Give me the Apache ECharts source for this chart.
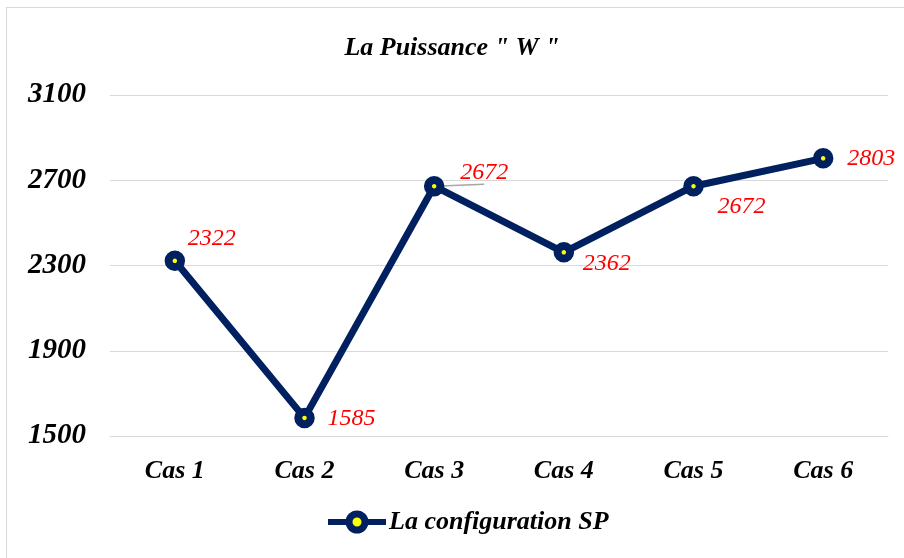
<!DOCTYPE html>
<html>
<head>
<meta charset="utf-8">
<script src="https://cdn.jsdelivr.net/npm/echarts@6/dist/echarts.min.js"></script>
<style>
  html, body { margin: 0; padding: 0; background: #fff; }
  #frame { position: absolute; left: 6px; top: 7px; width: 904px; height: 560px; border: 1px solid #d9d9d9; box-sizing: border-box; }
  #chart { position: absolute; left: 0; top: 0; width: 904px; height: 558px; }
</style>
</head>
<body>
<div id="frame"></div>
<div id="chart"></div>
<script>
// Power per case, configuration SP
const categories = ['Cas 1', 'Cas 2', 'Cas 3', 'Cas 4', 'Cas 5', 'Cas 6'];
const puissance = [2322, 1585, 2672, 2362, 2672, 2803];
const seriesName = 'La configuration SP';
const yTicks = [1500, 1900, 2300, 2700, 3100];

// label offsets relative to each marker (dx, dy)
const labelOffsets = [[37, -22], [47, 1], [50, -14], [43, 11], [48, 20], [48, 0]];

const serif = '"Liberation Serif", "Times New Roman", serif';
const navy = '#002060';
const chart = echarts.init(document.getElementById('chart'), null, { renderer: 'canvas' });

chart.setOption({
  animation: false,
  backgroundColor: 'transparent',
  title: {
    text: 'La Puissance " W "',
    left: 'center',
    top: 30,
    textStyle: { fontFamily: serif, fontStyle: 'italic', fontWeight: 'bold', fontSize: 26, color: '#000' }
  },
  grid: { left: 110, right: 16, top: 95, bottom: 122 },
  legend: {
    bottom: 18,
    left: 320,
    itemWidth: 58,
    itemHeight: 20,
    itemGap: 4,
    itemStyle: { color: '#ffff00', borderColor: navy, borderWidth: 7 },
    lineStyle: { color: navy, width: 6 },
    textStyle: { fontFamily: serif, fontStyle: 'italic', fontWeight: 'bold', fontSize: 26, color: '#000', padding: [0, 0, 0, -2] },
    data: [seriesName]
  },
  xAxis: {
    type: 'category',
    data: categories,
    axisLine: { lineStyle: { color: '#d9d9d9', width: 1 } },
    axisTick: { show: false },
    axisLabel: { margin: 22, fontFamily: serif, fontStyle: 'italic', fontWeight: 'bold', fontSize: 26, color: '#000' }
  },
  yAxis: {
    type: 'value',
    min: yTicks[0],
    max: yTicks[yTicks.length - 1],
    interval: 400,
    axisLine: { show: false },
    axisTick: { show: false },
    splitLine: { lineStyle: { color: '#d9d9d9', width: 1 } },
    axisLabel: {
      margin: 24,
      formatter: v => String(v),
      fontFamily: serif, fontStyle: 'italic', fontWeight: 'bold', fontSize: 29, color: '#000'
    }
  },
  series: [{
    name: seriesName,
    type: 'line',
    data: puissance.map((v, i) => ({
      value: v,
      label: { offset: labelOffsets[i] },
      labelLine: i === 2 ? { show: true } : { show: false }
    })),
    lineStyle: { color: navy, width: 7 },
    symbol: 'circle',
    symbolSize: 12.5,
    itemStyle: { color: '#ffff00', borderColor: navy, borderWidth: 8 },
    label: {
      show: true,
      position: 'inside',
      fontFamily: serif,
      fontStyle: 'italic',
      fontSize: 24,
      color: '#ff0000'
    },
    labelLine: { lineStyle: { color: '#a6a6a6', width: 1.5 } }
  }]
});
</script>
</body>
</html>
